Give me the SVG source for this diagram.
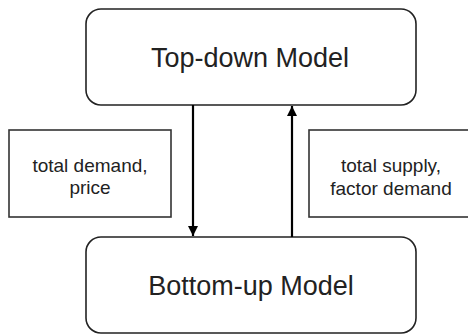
<svg xmlns="http://www.w3.org/2000/svg" width="468" height="334" viewBox="0 0 468 334">
<style>
.model{fill:#fff;stroke:#222;stroke-width:1.6}
.lbl{fill:#fff;stroke:#333;stroke-width:1.6}
.t{font-family:"Liberation Sans",Arial,sans-serif;fill:#222;text-anchor:middle}
.big{font-size:27px}
.sm{font-size:19px}
.conn{stroke:#000;stroke-width:2.2;fill:none}
</style>
<defs>
<marker id="ah" viewBox="0 0 10 10" refX="10" refY="5" markerWidth="4.8" markerHeight="4.6" orient="auto" markerUnits="strokeWidth">
<path d="M0,0 L10,5 L0,10 z" fill="#000"/>
</marker>
</defs>
<rect width="468" height="334" fill="#fff"/>
<g id="top">
<rect class="model" x="86" y="9" width="330" height="96" rx="15"/>
<text class="t big" x="250" y="67">Top-down Model</text>
</g>
<g id="bottom">
<rect class="model" x="86" y="237" width="330" height="96" rx="15"/>
<text class="t big" x="251" y="295">Bottom-up Model</text>
</g>
<g id="left-label">
<rect class="lbl" x="9" y="130" width="162" height="87"/>
<text class="t sm" x="90" y="172">total demand,</text>
<text class="t sm" x="90" y="194">price</text>
</g>
<g id="right-label">
<rect class="lbl" x="309" y="130" width="170" height="87"/>
<text class="t sm" x="391" y="172">total supply,</text>
<text class="t sm" x="391" y="195">factor demand</text>
</g>
<g id="connectors">
<line class="conn" x1="193" y1="105" x2="193" y2="236" marker-end="url(#ah)"/>
<line class="conn" x1="292" y1="237" x2="292" y2="106" marker-end="url(#ah)"/>
</g>
</svg>
